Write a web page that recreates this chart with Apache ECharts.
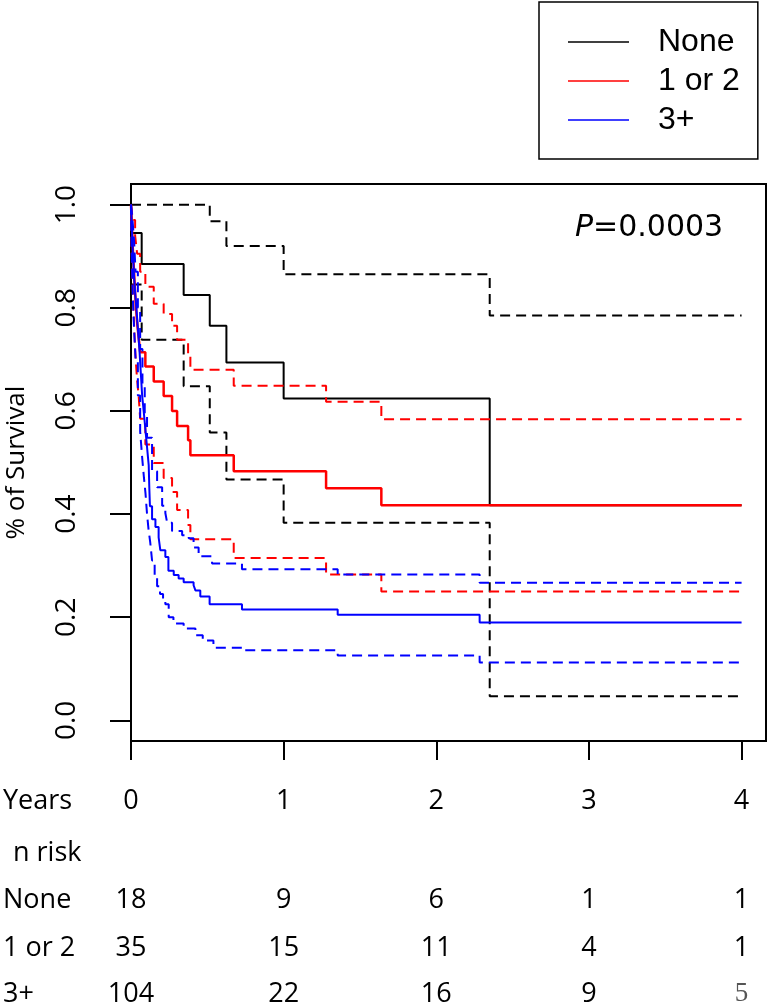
<!DOCTYPE html>
<html>
<head>
<meta charset="utf-8">
<script src="https://cdn.jsdelivr.net/npm/echarts@6/dist/echarts.min.js"></script>
<style>
html,body{margin:0;padding:0;background:#fff;}
#c{width:771px;height:1005px;}
</style>
</head>
<body>
<div id="c"></div>
<script>
// ---- Data ----
const yearTicks = [0, 1, 2, 3, 4];
const yTicks = [0, 0.2, 0.4, 0.6, 0.8, 1.0];
const groupNames = ['None', '1 or 2', '3+'];

const riskNone = [18, 9, 6, 1, 1];
const risk12 = [35, 15, 11, 4, 1];
const risk3p = [104, 22, 16, 9, 5];

// None
const noneTime  = [0, 0.003, 0.07, 0.345, 0.516, 0.625, 1.0, 2.35, 4.0];
const noneSurv  = [1.0, 0.945, 0.885, 0.825, 0.765, 0.694, 0.624, 0.417, 0.417];
const noneUpTime = [0, 0.516, 0.625, 1.0, 2.35, 4.0];
const noneUp     = [1.0, 0.968, 0.920, 0.865, 0.785, 0.785];
const noneLoTime = [0, 0.003, 0.07, 0.345, 0.516, 0.625, 1.0, 2.35, 4.0];
const noneLo     = [1.0, 0.845, 0.738, 0.648, 0.558, 0.467, 0.383, 0.047, 0.047];

// 1 or 2
const r12Time = [0, 0.004, 0.008, 0.012, 0.017, 0.022, 0.027, 0.033, 0.04, 0.05, 0.06, 0.094, 0.149, 0.214, 0.269, 0.302, 0.374, 0.389, 0.673, 1.278, 1.64, 4.0];
const r12Surv = [1.0, 0.971, 0.943, 0.914, 0.886, 0.857, 0.829, 0.8, 0.771, 0.743, 0.714, 0.686, 0.657, 0.629, 0.6, 0.571, 0.543, 0.514, 0.483, 0.45, 0.417, 0.417];
const r12UpTime = [0, 0.012, 0.027, 0.04, 0.06, 0.094, 0.149, 0.214, 0.269, 0.302, 0.374, 0.389, 0.673, 1.278, 1.64, 4.0];
const r12Up     = [1.0, 0.97, 0.94, 0.905, 0.87, 0.841, 0.808, 0.788, 0.765, 0.738, 0.71, 0.68, 0.649, 0.618, 0.584, 0.584];
const r12LoTime = [0, 0.004, 0.008, 0.012, 0.017, 0.022, 0.027, 0.033, 0.04, 0.05, 0.06, 0.094, 0.149, 0.214, 0.269, 0.302, 0.374, 0.389, 0.673, 1.278, 1.64, 4.0];
const r12Lo     = [1.0, 0.92, 0.87, 0.83, 0.79, 0.755, 0.72, 0.69, 0.66, 0.63, 0.585, 0.535, 0.499, 0.47, 0.443, 0.408, 0.379, 0.351, 0.315, 0.283, 0.25, 0.25];

// 3+
const r3Time = [0, 0.005, 0.01, 0.015, 0.02, 0.027, 0.035, 0.045, 0.055, 0.063, 0.073, 0.083, 0.094, 0.105, 0.116, 0.12, 0.124, 0.138, 0.16, 0.181, 0.192, 0.225, 0.245, 0.28, 0.312, 0.345, 0.41, 0.422, 0.454, 0.515, 0.727, 1.354, 2.284, 4.0];
const r3Surv = [1.0, 0.96, 0.92, 0.89, 0.86, 0.83, 0.80, 0.76, 0.72, 0.68, 0.63, 0.60, 0.565, 0.53, 0.495, 0.45, 0.415, 0.39, 0.375, 0.355, 0.33, 0.317, 0.29, 0.282, 0.275, 0.268, 0.262, 0.252, 0.24, 0.225, 0.215, 0.205, 0.19, 0.19];
const r3UpTime = [0, 0.01, 0.02, 0.03, 0.045, 0.06, 0.075, 0.09, 0.105, 0.138, 0.171, 0.204, 0.225, 0.237, 0.269, 0.335, 0.378, 0.41, 0.443, 0.531, 0.727, 1.354, 2.284, 4.0];
const r3Up     = [1.0, 0.97, 0.93, 0.87, 0.80, 0.72, 0.65, 0.59, 0.548, 0.483, 0.452, 0.416, 0.402, 0.383, 0.367, 0.359, 0.353, 0.335, 0.318, 0.304, 0.293, 0.283, 0.267, 0.267];
const r3LoTime = [0, 0.005, 0.012, 0.02, 0.03, 0.045, 0.06, 0.073, 0.085, 0.095, 0.105, 0.115, 0.126, 0.138, 0.155, 0.171, 0.19, 0.21, 0.225, 0.247, 0.278, 0.345, 0.422, 0.47, 0.54, 0.727, 1.354, 2.284, 4.0];
const r3Lo     = [1.0, 0.90, 0.82, 0.76, 0.70, 0.63, 0.56, 0.51, 0.47, 0.44, 0.40, 0.37, 0.345, 0.31, 0.28, 0.26, 0.245, 0.232, 0.225, 0.20, 0.188, 0.178, 0.165, 0.155, 0.141, 0.136, 0.126, 0.112, 0.112];

// ---- Build ----
function pairs(t, v) { return t.map((x, i) => [x, v[i]]); }

const FONT = 'Open Sans';
const COL = { none: '#000000', r12: '#ff0000', r3: '#0000ff' };

function curve(name, t, v, color, dashed, width) {
  return {
    type: 'line', name: name, data: pairs(t, v), step: 'end',
    symbol: 'none', silent: true, animation: false,
    lineStyle: { color: color, width: width, type: dashed ? [10, 6] : 'solid' },
    itemStyle: { color: color }
  };
}

function rowAxis(offset, name, nameLeftGap, values, extraRich) {
  return {
    type: 'value', gridIndex: 0, position: 'bottom', offset: offset,
    min: 0, max: 4.16,
    axisLine: { show: false, onZero: false }, axisTick: { show: false }, splitLine: { show: false },
    axisLabel: {
      show: !!values, customValues: yearTicks, margin: 0, verticalAlign: 'middle',
      fontFamily: FONT, fontSize: 27, color: '#000',
      formatter: function (val) {
        const i = Math.round(val);
        if (!values) return '';
        if (extraRich && extraRich.idx === i) return '{g|' + values[i] + '}';
        return String(values[i]);
      },
      rich: extraRich ? { g: extraRich.style } : undefined
    },
    name: name, nameLocation: 'start', nameGap: nameLeftGap,
    nameTextStyle: { fontFamily: FONT, fontSize: 27, color: '#000', align: 'left', verticalAlign: 'middle' }
  };
}

const chart = echarts.init(document.getElementById('c'), null, { renderer: 'canvas' });
const option = {
  backgroundColor: '#ffffff',
  animation: false,
  title: {
    text: '{i|P}=0.0003', left: 575, top: 213, padding: 0,
    textStyle: {
      fontFamily: 'DejaVu Sans', fontSize: 30, fontWeight: 'normal', color: '#000',
      rich: { i: { fontStyle: 'italic', fontFamily: 'DejaVu Sans', fontSize: 30, color: '#000' } }
    }
  },
  legend: {
    data: groupNames, orient: 'vertical', left: 539, top: 2,
    icon: 'path://M0,0H60V1.6H0Z',
    itemWidth: 61, itemHeight: 14, itemGap: 7,
    padding: [24, 18, 23, 29],
    borderColor: '#000', borderWidth: 1.5, backgroundColor: '#fff',
    selectedMode: false,
    textStyle: { fontFamily: 'Liberation Sans', fontSize: 32, lineHeight: 32, color: '#000', padding: [0, 0, 0, 24] }
  },
  grid: {
    left: 131, top: 184, width: 635, height: 557,
    containLabel: false, outerBoundsMode: 'none',
    show: true, borderColor: '#000', borderWidth: 2, backgroundColor: 'transparent'
  },
  xAxis: [
    {
      type: 'value', gridIndex: 0, position: 'bottom', min: 0, max: 4.16,
      axisLine: { show: true, onZero: false, lineStyle: { color: '#000', width: 2 } },
      axisTick: { show: true, customValues: yearTicks, length: 19, lineStyle: { color: '#000', width: 2 } },
      axisLabel: { show: false }, splitLine: { show: false }
    },
    rowAxis(60, 'Years', 128, yearTicks, null),
    rowAxis(112, 'n risk', 118, null, null),
    rowAxis(159, 'None', 128, riskNone, null),
    rowAxis(207, '1 or 2', 128, risk12, null),
    rowAxis(253, '3+', 128, risk3p, { idx: 4, style: { fontFamily: 'Liberation Serif', fontSize: 27, color: '#555' } })
  ],
  yAxis: {
    type: 'value', min: -0.04, max: 1.04,
    axisLine: { show: true, onZero: false, lineStyle: { color: '#000', width: 2 } },
    axisTick: { show: true, customValues: yTicks, length: 21, lineStyle: { color: '#000', width: 2 } },
    axisLabel: {
      customValues: yTicks, rotate: 90, margin: 50,
      fontFamily: FONT, fontSize: 28, color: '#000',
      formatter: function (v) { return v.toFixed(1); }
    },
    splitLine: { show: false },
    name: '% of Survival', nameLocation: 'middle', nameGap: 101, nameRotate: 90,
    nameTextStyle: { fontFamily: FONT, fontSize: 26, color: '#000' }
  },
  series: [
    curve('None', noneTime, noneSurv, COL.none, false, 2),
    curve('None upper', noneUpTime, noneUp, COL.none, true, 2),
    curve('None lower', noneLoTime, noneLo, COL.none, true, 2),
    curve('1 or 2', r12Time, r12Surv, COL.r12, false, 2.5),
    curve('1 or 2 upper', r12UpTime, r12Up, COL.r12, true, 2),
    curve('1 or 2 lower', r12LoTime, r12Lo, COL.r12, true, 2),
    curve('3+', r3Time, r3Surv, COL.r3, false, 2),
    curve('3+ upper', r3UpTime, r3Up, COL.r3, true, 2),
    curve('3+ lower', r3LoTime, r3Lo, COL.r3, true, 2)
  ]
};
chart.setOption(option);
</script>
</body>
</html>
